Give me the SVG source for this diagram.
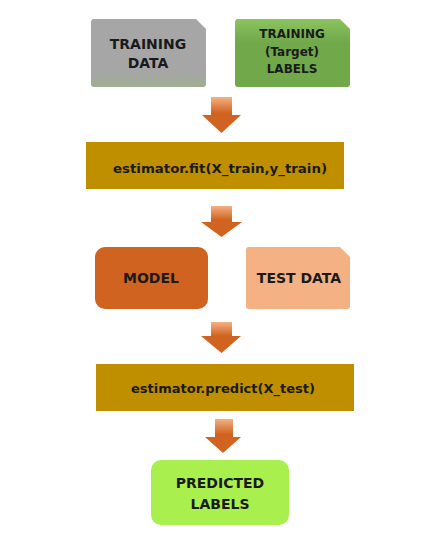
<svg xmlns="http://www.w3.org/2000/svg" width="436" height="536" viewBox="0 0 436 536">
<style>
text{font-family:"DejaVu Sans","Liberation Sans",sans-serif;font-weight:bold;fill:#1a1a1a;text-anchor:middle}
.big{font-size:14px}
.sm{font-size:12px}
.code{font-size:13px}
</style>
<defs>
<linearGradient id="ag" x1="0" y1="0" x2="0" y2="1">
<stop offset="0" stop-color="#F4B183"/>
<stop offset="0.45" stop-color="#D0631F"/>
<stop offset="1" stop-color="#D0631F"/>
</linearGradient>
<linearGradient id="gd" x1="0" y1="0" x2="0" y2="1">
<stop offset="0.8" stop-color="#A6A6A6"/>
<stop offset="1" stop-color="#9fae8f"/>
</linearGradient>
<linearGradient id="gl" x1="0" y1="0" x2="0" y2="1">
<stop offset="0" stop-color="#8cc460"/>
<stop offset="0.35" stop-color="#70A84A"/>
<stop offset="1" stop-color="#70A84A"/>
</linearGradient>
</defs>
<rect width="436" height="536" fill="#fff"/>
<g id="connectors">
<path d="M211,97 H232 V115 H241 L221.5,133 L202,115 H211 Z" fill="url(#ag)"/>
<path d="M211,206 H232 V222 H242 L221.5,237 L201,222 H211 Z" fill="url(#ag)"/>
<path d="M211,322 H232 V336 H241 L221.5,353 L201,336 H211 Z" fill="url(#ag)"/>
<path d="M215,419 H233 V437 H241 L223,453 L205,437 H215 Z" fill="url(#ag)"/>
</g>
<g id="training-data">
<path d="M94,19 H196 L206,29 V84 Q206,87 203,87 H94 Q91,87 91,84 V22 Q91,19 94,19 Z" fill="url(#gd)"/>
<text class="big" x="148" y="49">TRAINING</text>
<text class="big" x="148" y="68">DATA</text>
</g>
<g id="training-labels">
<path d="M238,19 H340 L350,29 V84 Q350,87 347,87 H238 Q235,87 235,84 V22 Q235,19 238,19 Z" fill="url(#gl)"/>
<text class="sm" x="292" y="38">TRAINING</text>
<text class="sm" x="292" y="56">(Target)</text>
<text class="sm" x="292" y="73">LABELS</text>
</g>
<g id="fit">
<rect x="86" y="142" width="258" height="47" fill="#BF8F00"/>
<text class="code" x="220" y="173" textLength="214" lengthAdjust="spacingAndGlyphs">estimator.fit(X_train,y_train)</text>
</g>
<g id="model">
<rect x="95" y="247" width="113" height="62" rx="10" fill="#D0631F"/>
<text class="big" x="151" y="283">MODEL</text>
</g>
<g id="test-data">
<path d="M249,247 H340 L350,257 V306 Q350,309 347,309 H249 Q246,309 246,306 V250 Q246,247 249,247 Z" fill="#F4B183"/>
<text class="big" x="299" y="283">TEST DATA</text>
</g>
<g id="predict">
<rect x="96" y="364" width="258" height="47" fill="#BF8F00"/>
<text class="code" x="223" y="393" textLength="184" lengthAdjust="spacingAndGlyphs">estimator.predict(X_test)</text>
</g>
<g id="predicted-labels">
<rect x="151" y="460" width="138" height="65" rx="10" fill="#A9F04F"/>
<text class="big" x="220" y="488">PREDICTED</text>
<text class="big" x="220" y="509">LABELS</text>
</g>
</svg>
